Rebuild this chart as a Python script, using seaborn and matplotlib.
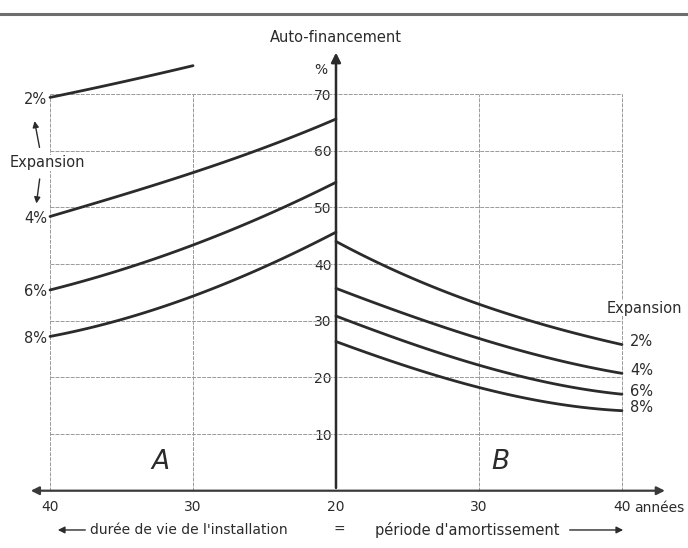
import seaborn as sns
import matplotlib.pyplot as plt
import pandas as pd

# valeurs (auto-financement en %)
annees_a = [40, 35, 30, 25, 20]
a_4 = [48.4, 52.1, 56.2, 60.5, 65.6]
a_6 = [35.4, 39.1, 43.2, 48.6, 54.4]
a_8 = [27.2, 30.3, 34.2, 39.6, 45.6]
annees_a2 = [40, 35, 30]
a_2 = [69.4, 72.1, 75.0]

annees_b = [20, 25, 30, 35, 40]
b_2 = [44.0, 37.8, 33.0, 28.9, 25.8]
b_4 = [35.7, 31.1, 26.8, 23.4, 20.7]
b_6 = [30.8, 26.3, 22.0, 19.1, 17.0]
b_8 = [26.3, 22.0, 18.1, 15.6, 14.1]

expansion = ['2%', '4%', '6%', '8%']
y_ticks = [10, 20, 30, 40, 50, 60, 70]
x_pos = [-20, -10, 0, 10, 20]
x_labels = ['40', '30', '20', '30', '40']

series_a = [annees_a2, a_2], [annees_a, a_4], [annees_a, a_6], [annees_a, a_8]
series_b = [annees_b, b_2], [annees_b, b_4], [annees_b, b_6], [annees_b, b_8]

frames = []
for exp, (ans, vals) in zip(expansion, series_a):
    frames.append(pd.DataFrame({'pos': [20 - a for a in ans], 'valeur': vals,
                                'courbe': 'A ' + exp}))
for exp, (ans, vals) in zip(expansion, series_b):
    frames.append(pd.DataFrame({'pos': [a - 20 for a in ans], 'valeur': vals,
                                'courbe': 'B ' + exp}))
df = pd.concat(frames, ignore_index=True)

sns.set_theme(style='white')
plt.rcParams['font.family'] = ['DejaVu Sans']
ink = '#2b2b2b'
grille = '#9a9a9a'

fig = plt.figure(figsize=(6.88, 5.48), dpi=100)
ax = fig.add_axes([0, 0, 1, 1])

# grille
ax.hlines(y_ticks, -20, 20, color=grille, lw=0.7, ls=(0, (4, 1.2)), zorder=1)
ax.vlines([-20, -10, 10, 20], 0, 70, color=grille, lw=0.7, ls=(0, (4, 1.2)), zorder=1)

# courbes lissées
for nom, d in df.groupby('courbe'):
    sns.regplot(data=d, x='pos', y='valeur', order=min(3, len(d) - 1), ci=None,
                scatter=False, truncate=True, ax=ax,
                line_kws=dict(color=ink, lw=2.0, zorder=3))

ax.set_xlim(-23.5, 24.62)
ax.set_ylim(-10.11, 86.59)

# axes avec flèches
for s in ax.spines.values():
    s.set_visible(False)
ax.spines['left'].set_position(('data', 0))
ax.spines['bottom'].set_position(('data', 0))
ax.set_yticks(y_ticks)
ax.set_yticklabels([str(t) for t in y_ticks])
ax.set_xticks(x_pos)
ax.set_xticklabels(x_labels)
ax.tick_params(length=0, labelsize=10, labelcolor=ink)
ax.tick_params(axis='y', pad=3)
ax.tick_params(axis='x', pad=7)
for lab in ax.get_yticklabels():
    lab.set_bbox(dict(facecolor='white', edgecolor='none', pad=0.5))
ax.set_xlabel('')
ax.set_ylabel('')

ax.annotate('', xy=(0, 77.8), xytext=(0, 0),
            arrowprops=dict(arrowstyle='-|>', lw=1.8, color=ink, mutation_scale=14), zorder=4)
ax.annotate('', xy=(-21.54, 0), xytext=(23.2, 0),
            arrowprops=dict(arrowstyle='<|-|>', lw=1.6, color='#3a3a3a', mutation_scale=12), zorder=4)

ax.axhline(84.1, color='#6d6d6d', lw=2.2)

ax.text(0, 79.9, 'Auto-financement', ha='center', va='center', fontsize=10.5, color=ink)
ax.text(-1.05, 74.2, '%', ha='center', va='center', fontsize=10, color=ink)
ax.text(20.85, -3.05, 'années', ha='left', va='center', fontsize=10, color=ink)

# étiquettes des courbes
for exp, (ans, vals) in zip(expansion, series_a):
    ax.text(-20.2, vals[0] - 0.3, exp, ha='right', va='center', fontsize=10.5, color=ink)
for exp, (ans, vals) in zip(expansion, series_b):
    ax.text(20.56, vals[-1] + 0.55, exp, ha='left', va='center', fontsize=10.5, color=ink)

bb = dict(facecolor='white', edgecolor='none', pad=0.4)
ax.text(-20.2, 57.9, 'Expansion', ha='center', va='center', fontsize=10.5, color=ink, bbox=bb)
ax.text(21.6, 32.2, 'Expansion', ha='center', va='center', fontsize=10.5, color=ink, bbox=bb)
fl = dict(arrowstyle='-|>', lw=1.0, color=ink, mutation_scale=9)
ax.annotate('', xy=(-21.12, 65.7), xytext=(-20.7, 60.1), arrowprops=fl)
ax.annotate('', xy=(-20.98, 50.2), xytext=(-20.7, 55.5), arrowprops=fl)

ax.text(-12.3, 5.1, 'A', ha='center', va='center', fontsize=19, style='italic', color=ink)
ax.text(11.47, 5.1, 'B', ha='center', va='center', fontsize=19, style='italic', color=ink)

# légende du bas
fb = dict(arrowstyle='-|>', lw=1.0, color=ink, mutation_scale=10)
ax.annotate('', xy=(-19.65, -6.93), xytext=(-17.34, -6.93), arrowprops=fb)
ax.text(-17.2, -6.93, "durée de vie de l'installation", ha='left', va='center',
        fontsize=10, color=ink)
ax.text(0.2, -6.93, '=', ha='center', va='center', fontsize=10, color=ink)
ax.text(2.73, -6.93, "période d'amortissement", ha='left', va='center', fontsize=10.5, color=ink)
ax.annotate('', xy=(20.28, -6.93), xytext=(16.15, -6.93), arrowprops=fb)

fig.savefig('out.png', dpi=100, facecolor='white')
